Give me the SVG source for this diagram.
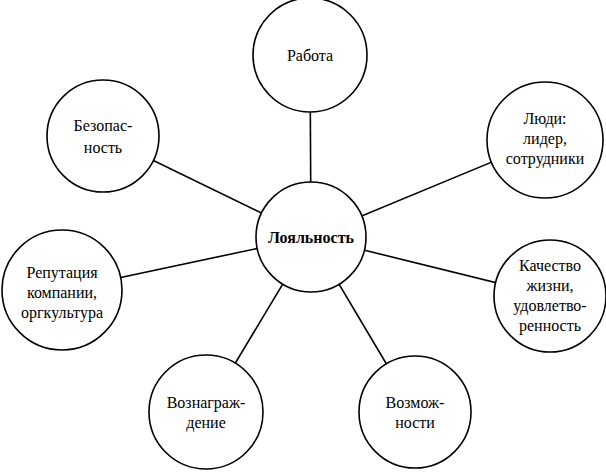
<svg xmlns="http://www.w3.org/2000/svg" width="606" height="474" viewBox="0 0 606 474">
<style>
circle{fill:#fff;stroke:#000;stroke-width:1.6}
line{stroke:#000;stroke-width:1.6}
text{font-family:"Liberation Serif",serif;font-size:16px;text-anchor:middle;fill:#000}
.b{font-weight:bold}
</style>
<rect width="606" height="474" fill="#fff"/>
<g id="connectors">
<line x1="311" y1="237" x2="310" y2="55"/>
<line x1="311" y1="237" x2="103" y2="136"/>
<line x1="311" y1="237" x2="545" y2="140"/>
<line x1="311" y1="237" x2="62" y2="290"/>
<line x1="311" y1="237" x2="550" y2="296"/>
<line x1="311" y1="237" x2="206" y2="412"/>
<line x1="311" y1="237" x2="415" y2="412"/>
</g>
<g id="center"><circle cx="311" cy="237" r="55"/><text class="b" x="311" y="243">Лояльность</text></g>
<g id="rabota"><circle cx="310" cy="55" r="57"/><text x="310" y="61">Работа</text></g>
<g id="bezopasnost"><circle cx="103" cy="136" r="56"/><text x="103" y="131">Безопас-</text><text x="103" y="153">ность</text></g>
<g id="lyudi"><circle cx="545" cy="140" r="58"/><text x="545" y="124">Люди:</text><text x="545" y="144">лидер,</text><text x="545" y="164">сотрудники</text></g>
<g id="reputaciya"><circle cx="62" cy="290" r="60"/><text x="62" y="278">Репутация</text><text x="62" y="298">компании,</text><text x="62" y="318">оргкультура</text></g>
<g id="kachestvo"><circle cx="550" cy="296" r="56"/><text x="550" y="271">Качество</text><text x="550" y="291">жизни,</text><text x="550" y="311">удовлетво-</text><text x="550" y="331">ренность</text></g>
<g id="voznagrazhdenie"><circle cx="206" cy="412" r="57"/><text x="206" y="408">Вознаграж-</text><text x="206" y="428">дение</text></g>
<g id="vozmozhnosti"><circle cx="415" cy="412" r="56"/><text x="415" y="408">Возмож-</text><text x="415" y="428">ности</text></g>
</svg>
